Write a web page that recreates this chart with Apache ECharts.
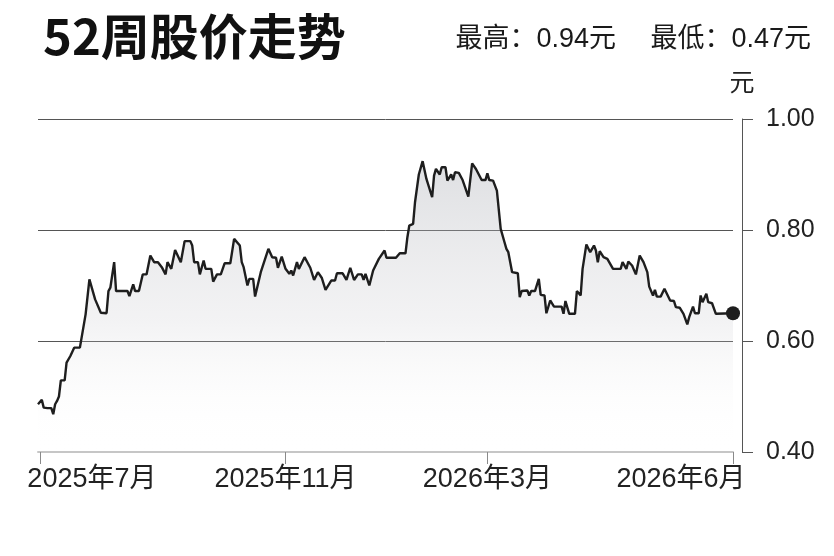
<!DOCTYPE html>
<html>
<head>
<meta charset="utf-8">
<script src="https://cdn.jsdelivr.net/npm/echarts@6/dist/echarts.min.js"></script>
<style>
html,body{margin:0;padding:0;background:#fff;}
#c{width:834px;height:556px;}
</style>
</head>
<body>
<div id="c"></div>
<script>
var titleText = '52周股价走势';
var statsText = '最高：0.94元\u3000 最低：0.47元';
var unitText = '元';

var tickDays = [1, 130, 236, 365];
var tickLabels = ['2025年7月', '2025年11月', '2026年3月', '2026年6月'];
var yTicks = [0.4, 0.6, 0.8, 1.0];

var days = [0,2,3,5,7,8,9,10,11,12,14,15,17,19,22,25,27,30,33,36,37,38,40,41,47,48,50,51,53,55,57,59,61,63,65,67,68,70,72,75,77,80,81,82,84,85,87,88,91,92,94,96,98,101,103,106,107,108,110,111,113,114,117,121,123,125,126,127,128,130,132,133,134,136,137,140,141,143,144,145,146,147,149,151,152,154,156,157,160,162,164,166,168,170,171,172,174,176,179,180,182,183,188,190,193,194,195,197,198,200,202,204,207,208,209,211,212,214,215,217,218,219,221,223,226,228,230,233,235,236,237,239,241,243,245,246,247,248,249,252,253,254,257,258,259,261,263,264,266,267,269,271,275,276,277,279,282,283,285,286,287,288,290,292,293,294,295,297,299,302,306,307,309,310,312,314,316,318,320,321,323,324,325,327,329,332,334,335,337,339,341,342,344,345,347,348,349,351,352,354,356,365];
var prices = [0.486,0.494,0.480,0.479,0.479,0.468,0.486,0.492,0.500,0.529,0.529,0.561,0.573,0.588,0.588,0.648,0.711,0.675,0.651,0.650,0.690,0.696,0.742,0.690,0.690,0.681,0.702,0.690,0.690,0.720,0.720,0.754,0.742,0.742,0.733,0.720,0.742,0.730,0.764,0.742,0.780,0.780,0.772,0.742,0.742,0.720,0.745,0.730,0.730,0.707,0.720,0.720,0.740,0.740,0.784,0.772,0.742,0.733,0.700,0.712,0.712,0.680,0.724,0.766,0.751,0.750,0.732,0.732,0.752,0.730,0.721,0.727,0.718,0.742,0.730,0.751,0.751,0.732,0.730,0.710,0.710,0.724,0.714,0.692,0.692,0.709,0.709,0.722,0.722,0.710,0.732,0.710,0.720,0.720,0.710,0.721,0.700,0.727,0.748,0.748,0.763,0.750,0.750,0.758,0.758,0.787,0.808,0.811,0.850,0.900,0.924,0.892,0.859,0.898,0.910,0.900,0.913,0.913,0.889,0.900,0.890,0.904,0.903,0.890,0.860,0.920,0.910,0.890,0.890,0.902,0.890,0.889,0.871,0.802,0.778,0.766,0.760,0.742,0.724,0.722,0.679,0.690,0.691,0.682,0.690,0.690,0.712,0.683,0.682,0.650,0.673,0.662,0.662,0.649,0.672,0.649,0.649,0.690,0.682,0.730,0.730,0.774,0.760,0.772,0.763,0.742,0.762,0.751,0.748,0.730,0.730,0.742,0.730,0.743,0.736,0.720,0.754,0.742,0.724,0.698,0.682,0.692,0.680,0.680,0.694,0.673,0.672,0.661,0.660,0.649,0.630,0.643,0.662,0.650,0.650,0.682,0.670,0.685,0.670,0.668,0.649,0.650];

var seriesData = days.map(function (d, i) { return [d, prices[i]]; });
var lastPoint = [days[days.length - 1], prices[prices.length - 1]];

var FONT = 'Liberation Sans, Noto Sans CJK SC, sans-serif';

var chart = echarts.init(document.getElementById('c'), null, {renderer: 'canvas'});
chart.setOption({
  animation: false,
  backgroundColor: '#ffffff',
  title: [{
    text: titleText,
    left: 43, top: 12, padding: 0,
    textStyle: {fontFamily: 'Noto Sans CJK SC', fontSize: 49, fontWeight: 'bold', color: '#111'}
  }, {
    text: statsText,
    right: 23, top: 26, padding: 0,
    textStyle: {fontFamily: FONT, fontSize: 27, fontWeight: 'normal', color: '#1a1a1a'}
  }],
  grid: {left: 38, right: 101, top: 119, bottom: 104, containLabel: false},
  xAxis: {
    type: 'value',
    min: 0, max: 365,
    axisLine: {show: true, onZero: false, lineStyle: {color: '#c6c6c6', width: 2}},
    axisTick: {show: true, customValues: tickDays, length: 12, lineStyle: {color: '#8a8a8a', width: 1}},
    axisLabel: {
      customValues: tickDays,
      margin: 14,
      fontFamily: FONT, fontSize: 27, color: '#222',
      formatter: function (v) {
        var i = tickDays.indexOf(v);
        if (i < 0) return '';
        if (i === 0) return '{first|' + tickLabels[i] + '}';
        if (i === tickDays.length - 1) return '{last|' + tickLabels[i] + '}';
        return tickLabels[i];
      },
      rich: {
        first: {fontFamily: FONT, fontSize: 27, color: '#222', padding: [0, 0, 0, 104]},
        last: {fontFamily: FONT, fontSize: 27, color: '#222', padding: [0, 104, 0, 0]}
      }
    },
    splitLine: {show: false}
  },
  yAxis: {
    type: 'value',
    position: 'right',
    offset: 9,
    min: 0.4, max: 1.0, interval: 0.2,
    name: unitText,
    nameLocation: 'end',
    nameGap: 22,
    nameTextStyle: {fontFamily: FONT, fontSize: 25, color: '#222'},
    axisLine: {show: true, onZero: false, lineStyle: {color: '#555', width: 1}},
    axisTick: {show: true, inside: false, length: 11, lineStyle: {color: '#555', width: 1}},
    axisLabel: {
      margin: 24, fontFamily: FONT, fontSize: 25, color: '#222',
      formatter: function (v) { return v.toFixed(2); }
    },
    splitLine: {show: true, lineStyle: {color: ['rgba(0,0,0,0)', '#555', '#555', '#555'], width: 1}}
  },
  series: [{
    type: 'line',
    data: seriesData,
    symbol: 'none',
    smooth: false,
    lineStyle: {color: '#1e1e1e', width: 2.4},
    areaStyle: {
      origin: 'start',
      color: new echarts.graphic.LinearGradient(0, 0, 0, 1, [
        {offset: 0, color: 'rgba(170,173,180,0.55)'},
        {offset: 0.55, color: 'rgba(200,200,205,0.32)'},
        {offset: 1, color: 'rgba(255,255,255,0)'}
      ])
    },
    z: 3
  }, {
    type: 'scatter',
    data: [lastPoint],
    symbol: 'circle',
    symbolSize: 14,
    itemStyle: {color: '#1e1e1e', opacity: 1},
    z: 4
  }]
});
</script>
</body>
</html>
